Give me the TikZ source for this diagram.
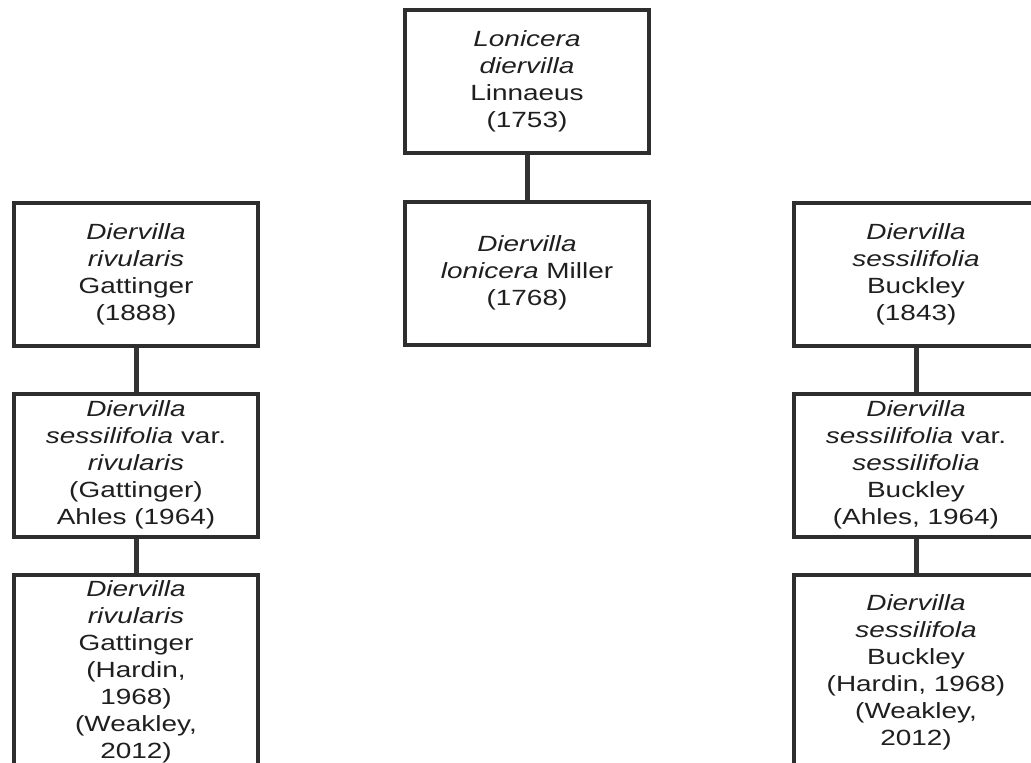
\documentclass[tikz,border=0pt]{standalone}
\usepackage{fontspec}
\setmainfont{Liberation Sans}[FakeStretch=1.27]
\begin{document}
\begin{tikzpicture}[x=1pt,y=-1pt,
  taxbox/.style={draw=black!82,line width=3.5pt,fill=white,minimum width=244pt,
    minimum height=143pt,inner sep=0pt,align=center,anchor=north,text=black!88,
    font=\fontsize{22}{27}\selectfont},
  conn/.style={draw=black!80,line width=5pt}]
\useasboundingbox (0,0) rectangle (1031,763);
\clip (0,0) rectangle (1031,763);
\fill[white] (0,0) rectangle (1031,763);
% centre column
\node[taxbox] (c1) at (527,8) {\textit{Lonicera}\\\textit{diervilla}\\Linnaeus\\(1753)};
\node[taxbox] (c2) at (527,200) {\textit{Diervilla}\\\textit{lonicera} Miller\\(1768)};
% left column
\node[taxbox] (l1) at (136,201) {\textit{Diervilla}\\\textit{rivularis}\\Gattinger\\(1888)};
\node[taxbox] (l2) at (136,392) {\textit{Diervilla}\\\textit{sessilifolia} var.\\\textit{rivularis}\\(Gattinger)\\Ahles (1964)};
\node[taxbox,minimum height=195pt] (l3) at (136,573) {\textit{Diervilla}\\\textit{rivularis}\\Gattinger\\(Hardin,\\1968)\\(Weakley,\\2012)};
% right column
\node[taxbox] (r1) at (916,201) {\textit{Diervilla}\\\textit{sessilifolia}\\Buckley\\(1843)};
\node[taxbox] (r2) at (916,392) {\textit{Diervilla}\\\textit{sessilifolia} var.\\\textit{sessilifolia}\\Buckley\\(Ahles, 1964)};
\node[taxbox,minimum height=195pt] (r3) at (916,573) {\textit{Diervilla}\\\textit{sessilifola}\\Buckley\\(Hardin, 1968)\\(Weakley,\\2012)};
% connectors
\draw[conn] (c1.south) -- (c2.north);
\draw[conn] (l1.south) -- (l2.north);
\draw[conn] (l2.south) -- (l3.north);
\draw[conn] (r1.south) -- (r2.north);
\draw[conn] (r2.south) -- (r3.north);
\end{tikzpicture}
\end{document}
